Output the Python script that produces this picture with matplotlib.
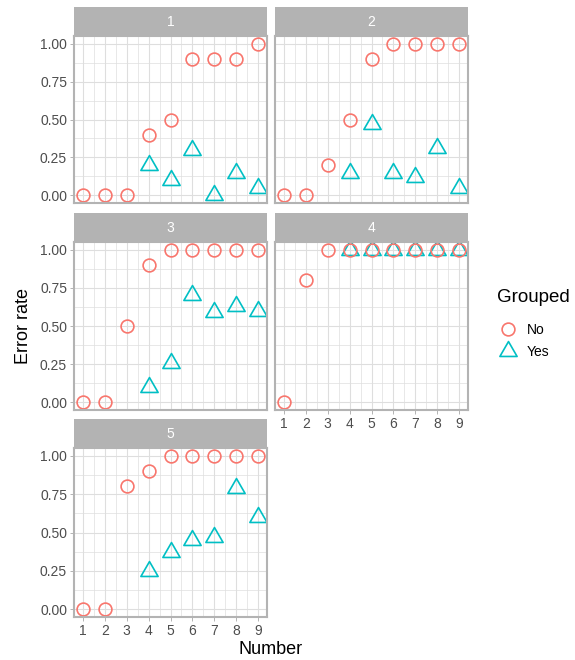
import matplotlib.pyplot as plt
import numpy as np
from matplotlib.path import Path
from matplotlib.lines import Line2D

plt.rcParams['font.family'] = ['Liberation Sans', 'DejaVu Sans']

# data
panels = ['1', '2', '3', '4', '5']
number = [1, 2, 3, 4, 5, 6, 7, 8, 9]
yes_number = [4, 5, 6, 7, 8, 9]

no_rate = [
    [0.0, 0.0, 0.0, 0.4, 0.5, 0.9, 0.9, 0.9, 1.0],
    [0.0, 0.0, 0.2, 0.5, 0.9, 1.0, 1.0, 1.0, 1.0],
    [0.0, 0.0, 0.5, 0.9, 1.0, 1.0, 1.0, 1.0, 1.0],
    [0.0, 0.8, 1.0, 1.0, 1.0, 1.0, 1.0, 1.0, 1.0],
    [0.0, 0.0, 0.8, 0.9, 1.0, 1.0, 1.0, 1.0, 1.0],
]
yes_rate = [
    [0.20, 0.10, 0.30, 0.0, 0.15, 0.05],
    [0.15, 0.47, 0.15, 0.12, 0.31, 0.05],
    [0.10, 0.26, 0.70, 0.59, 0.63, 0.60],
    [1.0, 1.0, 1.0, 1.0, 1.0, 1.0],
    [0.25, 0.37, 0.45, 0.47, 0.79, 0.60],
]

col_no = '#F8766D'
col_yes = '#00BFC4'
grey70 = '#B3B3B3'

# triangle like R's pch 2 (centroid on the point)
tri = Path([(0, 1.5551), (1.3468, -0.7776), (-1.3468, -0.7776), (0, 1.5551)],
           [Path.MOVETO, Path.LINETO, Path.LINETO, Path.CLOSEPOLY])
circ_ms = 9.2
tri_ms = circ_ms * 1.5551

W, H = 575, 660
fig = plt.figure(figsize=(W / 100, H / 100), dpi=100)


def box(l, t, r, b):
    return [l / W, 1 - b / H, (r - l) / W, (b - t) / H]


cols = [(74, 267), (275, 468)]
strip_tops = [7, 213, 419]
panel_bottoms = [203, 410, 617]
strip_h = 29

for i, name in enumerate(panels):
    row, col = divmod(i, 2)
    l, r = cols[col]
    t = strip_tops[row]
    b = panel_bottoms[row]

    ax = fig.add_axes(box(l, t + strip_h, r, b))
    ax.plot(yes_number, yes_rate[i], ls='none', marker=tri, ms=tri_ms,
            mfc='none', mec=col_yes, mew=1.2)
    ax.plot(number, no_rate[i], ls='none', marker='o', ms=circ_ms,
            mfc='none', mec=col_no, mew=1.2)

    ax.set_xlim(0.6, 9.4)
    ax.set_ylim(-0.05, 1.05)
    ax.set_xticks(number)
    ax.set_xticks(np.arange(1.5, 9, 1), minor=True)
    ax.set_yticks([0, 0.25, 0.5, 0.75, 1.0])
    ax.set_yticklabels(['0.00', '0.25', '0.50', '0.75', '1.00'])
    ax.set_yticks([0.125, 0.375, 0.625, 0.875], minor=True)
    ax.set_axisbelow(True)
    ax.grid(which='major', color='#DEDEDE', lw=0.8)
    ax.grid(which='minor', color='#DEDEDE', lw=0.5)
    ax.tick_params(which='minor', length=0)
    ax.tick_params(which='major', length=3, width=0.7, color=grey70,
                   labelcolor='#4D4D4D', labelsize=10, pad=2)
    for s in ax.spines.values():
        s.set_color(grey70)
        s.set_linewidth(1.5)

    if col == 1:
        ax.tick_params(left=False, labelleft=False)
    if i not in (3, 4):
        ax.tick_params(bottom=False, labelbottom=False)

    sax = fig.add_axes(box(l, t, r, t + strip_h))
    sax.set_facecolor(grey70)
    sax.set_xticks([])
    sax.set_yticks([])
    for s in sax.spines.values():
        s.set_visible(False)
    sax.text(0.5, 0.5, name, color='white', fontsize=10,
             ha='center', va='center', transform=sax.transAxes)

fig.text(23 / W, 1 - 326 / H, 'Error rate', rotation=90, ha='center',
         va='center', fontsize=13)
fig.text(271 / W, 1 - 650 / H, 'Number', ha='center', va='center',
         fontsize=13)

handles = [
    Line2D([], [], ls='none', marker='o', ms=circ_ms, mfc='none',
           mec=col_no, mew=1.2),
    Line2D([], [], ls='none', marker=tri, ms=tri_ms, mfc='none',
           mec=col_yes, mew=1.2),
]
fig.text(497 / W, 1 - 298 / H, 'Grouped', ha='left', va='center',
         fontsize=13.5)
fig.legend(handles, ['No', 'Yes'], loc='upper left',
           bbox_to_anchor=(485 / W, 1 - 310 / H), frameon=False,
           fontsize=10, handletextpad=0.6, labelspacing=0.6,
           handlelength=1.5)

fig.savefig('out.png', dpi=100)
